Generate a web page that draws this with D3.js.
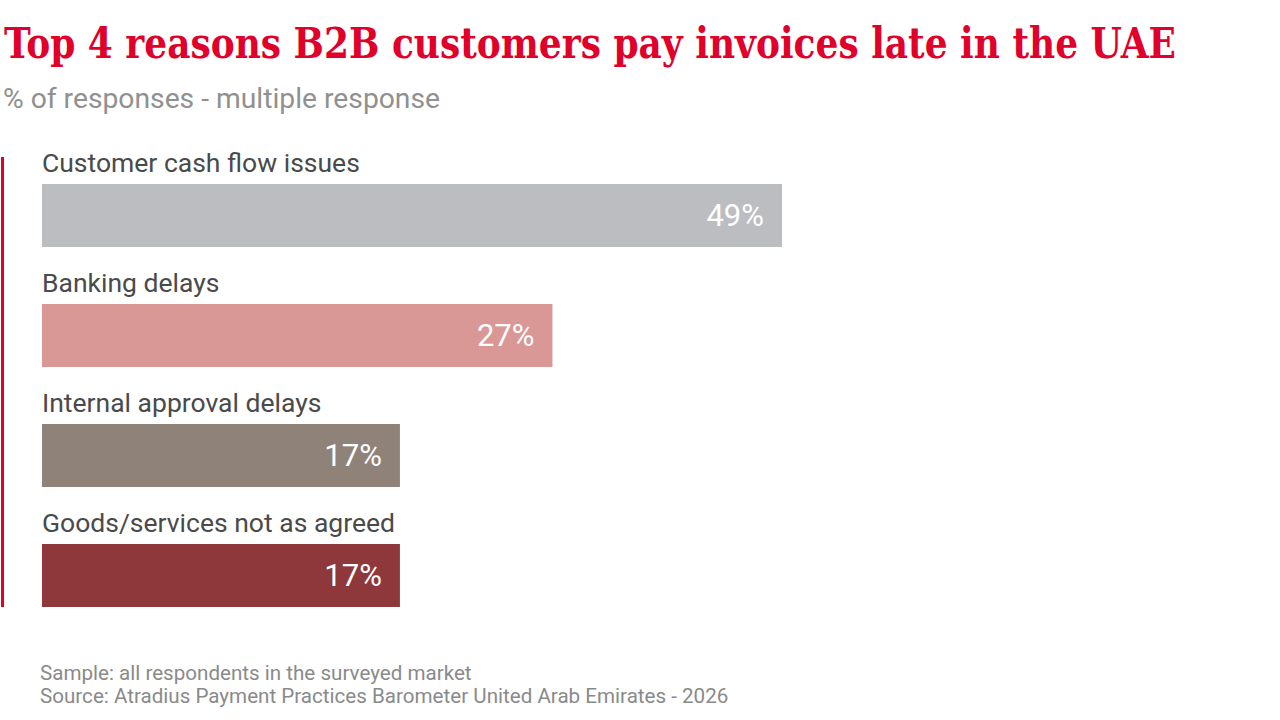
<!DOCTYPE html>
<html>
<head>
<meta charset="utf-8">
<script src="https://cdn.jsdelivr.net/npm/d3@7"></script>
<style>
  body { margin: 0; background: #fff; }
  svg { display: block; }
</style>
</head>
<body>
<div class="chart"></div>
<script>
const categories = ["Customer cash flow issues", "Banking delays", "Internal approval delays", "Goods/services not as agreed"];
const values = [49, 27, 17, 17];
// bar lengths as drawn in the source graphic (in % units of the 49% bar)
const barLengths = [49, 33.8, 23.7, 23.7];
const colors = ["#bcbdc1", "#d99795", "#8f8279", "#8e383b"];

const title = "Top 4 reasons B2B customers pay invoices late in the UAE";
const subtitle = "% of responses - multiple response";
const notes = ["Sample: all respondents in the surveyed market",
  "Source: Atradius Payment Practices Barometer United Arab Emirates - 2026"];

const width = 1280, height = 720;
const sans = "Roboto, 'Noto Sans', sans-serif";

const svg = d3.select(".chart").append("svg")
  .attr("width", width)
  .attr("height", height);

const xScale = d3.scaleLinear()
  .domain([0, 49])
  .range([42, 782]);

const yScale = d3.scaleBand()
  .domain(categories)
  .range([184, 607])
  .paddingInner(0.475)
  .paddingOuter(0);

// title + subtitle
svg.append("text")
  .attr("x", 4)
  .attr("y", 58)
  .attr("fill", "#e0002a")
  .style("font-family", "'DejaVu Serif Condensed', 'DejaVu Serif', serif")
  .style("font-weight", "bold")
  .style("font-size", "42px")
  .attr("textLength", 1172)
  .attr("lengthAdjust", "spacingAndGlyphs")
  .text(title);

svg.append("text")
  .attr("x", 3)
  .attr("y", 108)
  .attr("fill", "#909090")
  .style("font-family", sans)
  .style("font-size", "28px")
  .attr("textLength", 437)
  .attr("lengthAdjust", "spacingAndGlyphs")
  .text(subtitle);

// red rule on the left
svg.append("rect")
  .attr("x", 1)
  .attr("y", 157)
  .attr("width", 3)
  .attr("height", 450)
  .attr("fill", "#e0002a");

const row = svg.selectAll("g.row")
  .data(categories)
  .enter().append("g")
  .attr("class", "row");

row.append("rect")
  .attr("x", xScale(0))
  .attr("y", d => yScale(d))
  .attr("width", (d, i) => xScale(barLengths[i]) - xScale(0))
  .attr("height", yScale.bandwidth())
  .attr("fill", (d, i) => colors[i]);

row.append("text")
  .attr("x", xScale(0))
  .attr("y", d => yScale(d) - 12)
  .attr("fill", "#4a4a4a")
  .style("font-family", sans)
  .style("font-size", "26.5px")
  .text(d => d);

row.append("text")
  .attr("x", (d, i) => xScale(barLengths[i]) - 18)
  .attr("y", d => yScale(d) + yScale.bandwidth() / 2 + 10)
  .attr("text-anchor", "end")
  .attr("fill", "#fff")
  .style("font-family", sans)
  .style("font-size", "31px")
  .text((d, i) => values[i] + "%");

svg.selectAll("text.note")
  .data(notes)
  .enter().append("text")
  .attr("class", "note")
  .attr("x", 40)
  .attr("y", (d, i) => 680 + i * 23)
  .attr("fill", "#8a8a8a")
  .style("font-family", sans)
  .style("font-size", "20.6px")
  .text(d => d);
</script>
</body>
</html>
